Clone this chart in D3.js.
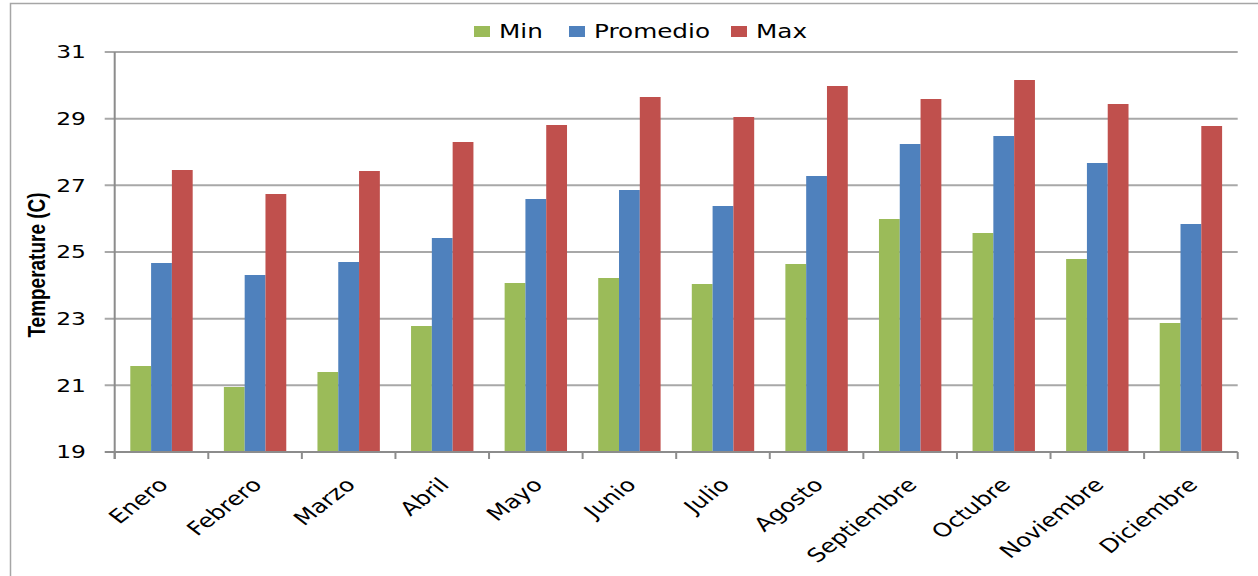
<!DOCTYPE html>
<html>
<head>
<meta charset="utf-8">
<script src="https://cdn.jsdelivr.net/npm/d3@7"></script>
<style>
  html, body { margin: 0; padding: 0; background: #fff; }
  svg { display: block; }
</style>
</head>
<body>
<script>
// Monthly temperatures (°C)
const months = ["Enero", "Febrero", "Marzo", "Abril", "Mayo", "Junio", "Julio",
                "Agosto", "Septiembre", "Octubre", "Noviembre", "Diciembre"];
const seriesNames = ["Min", "Promedio", "Max"];
const minValues  = [21.58, 20.95, 21.40, 22.78, 24.07, 24.22, 24.04, 24.64, 25.99, 25.57, 24.79, 22.87];
const avgValues  = [24.67, 24.31, 24.70, 25.42, 26.59, 26.86, 26.38, 27.28, 28.24, 28.48, 27.67, 25.84];
const maxValues  = [27.46, 26.74, 27.43, 28.30, 28.81, 29.65, 29.05, 29.98, 29.59, 30.16, 29.44, 28.78];
const yTicks = [19, 21, 23, 25, 27, 29, 31];
const yTitle = "Temperature (C)";

const seriesValues = [minValues, avgValues, maxValues];
const colors = ["#9BBB59", "#4F81BD", "#C0504D"];

const W = 1258, H = 576;
const plotLeft = 114.7, plotRight = 1237.7, plotTop = 52, plotBottom = 452;
const sx = 1.3; // horizontal stretch applied to text

const svg = d3.select("body").append("svg")
  .attr("width", W).attr("height", H)
  .style("font-family", "'DejaVu Sans', sans-serif");

svg.append("rect").attr("width", W).attr("height", H).attr("fill", "#fff");

// outer frame
svg.append("path")
  .attr("d", `M10.5,${H} V3.5 H${W}`)
  .attr("fill", "none").attr("stroke", "#a6a6a6").attr("stroke-width", 1.5);

const y = d3.scaleLinear().domain([19, 31]).range([plotBottom, plotTop]);
const x0 = d3.scaleBand().domain(months).range([plotLeft, plotRight]).paddingInner(0).paddingOuter(0);
const x1 = d3.scaleBand().domain(seriesNames).range([0, x0.bandwidth()]).paddingInner(0).paddingOuter(0.75);

// gridlines with tick marks on the left
const grid = svg.append("g");
grid.selectAll("line").data(yTicks.filter(t => t !== 19)).join("line")
  .attr("x1", plotLeft - 10).attr("x2", plotRight)
  .attr("y1", d => y(d)).attr("y2", d => y(d))
  .attr("stroke", "#a8a8a8").attr("stroke-width", 2);

// bars
const groups = svg.append("g").selectAll("g").data(months).join("g")
  .attr("transform", d => `translate(${x0(d)},0)`);
groups.selectAll("rect")
  .data((m, i) => seriesNames.map((s, k) => ({ s, k, v: seriesValues[k][i] })))
  .join("rect")
  .attr("x", d => x1(d.s))
  .attr("width", x1.bandwidth())
  .attr("y", d => y(d.v))
  .attr("height", d => y(19) - y(d.v))
  .attr("fill", d => colors[d.k]);

// y axis
const yAxis = svg.append("g");
yAxis.append("line").attr("x1", plotLeft).attr("x2", plotLeft).attr("y1", plotTop).attr("y2", plotBottom + 7)
  .attr("stroke", "#8c8c8c").attr("stroke-width", 2);
yAxis.append("line").attr("x1", plotLeft - 10).attr("x2", plotLeft).attr("y1", plotBottom).attr("y2", plotBottom)
  .attr("stroke", "#8c8c8c").attr("stroke-width", 2);
yAxis.selectAll("text").data(yTicks).join("text")
  .attr("transform", d => `translate(86,${y(d)}) scale(${sx},1)`)
  .attr("dy", "0.36em")
  .attr("text-anchor", "end")
  .attr("font-size", 18)
  .attr("fill", "#000")
  .text(d => d);

// x axis
const xAxis = svg.append("g");
xAxis.append("line").attr("x1", plotLeft).attr("x2", plotRight).attr("y1", plotBottom).attr("y2", plotBottom)
  .attr("stroke", "#8c8c8c").attr("stroke-width", 2);
const tickPos = months.map(m => x0(m)).concat([plotRight]);
xAxis.selectAll("line.tick").data(tickPos).join("line").attr("class", "tick")
  .attr("x1", d => d).attr("x2", d => d).attr("y1", plotBottom).attr("y2", plotBottom + 7)
  .attr("stroke", "#8c8c8c").attr("stroke-width", 2);
xAxis.selectAll("text").data(months).join("text")
  .attr("transform", d => `translate(${x0(d) + x0.bandwidth() / 2 + 8},486) scale(${sx},1) rotate(-45)`)
  .attr("text-anchor", "end")
  .attr("font-size", 19)
  .attr("fill", "#000")
  .text(d => d);

// y axis title
svg.append("text")
  .attr("transform", `translate(45,265) scale(${sx},1) rotate(-90)`)
  .attr("text-anchor", "middle")
  .attr("font-family", "'Liberation Sans', Arial, sans-serif")
  .attr("font-weight", "bold")
  .attr("font-size", 19)
  .text(yTitle);

// legend
const legendX = [474, 569, 731];
const legend = svg.append("g").selectAll("g").data(seriesNames).join("g")
  .attr("transform", (d, i) => `translate(${legendX[i]},0)`);
legend.append("rect").attr("x", 0).attr("y", 26).attr("width", 16).attr("height", 11)
  .attr("fill", (d, i) => colors[i]);
legend.append("text")
  .attr("transform", `translate(25,38) scale(${sx},1)`)
  .attr("font-size", 19)
  .attr("fill", "#000")
  .text(d => d);
</script>
</body>
</html>
